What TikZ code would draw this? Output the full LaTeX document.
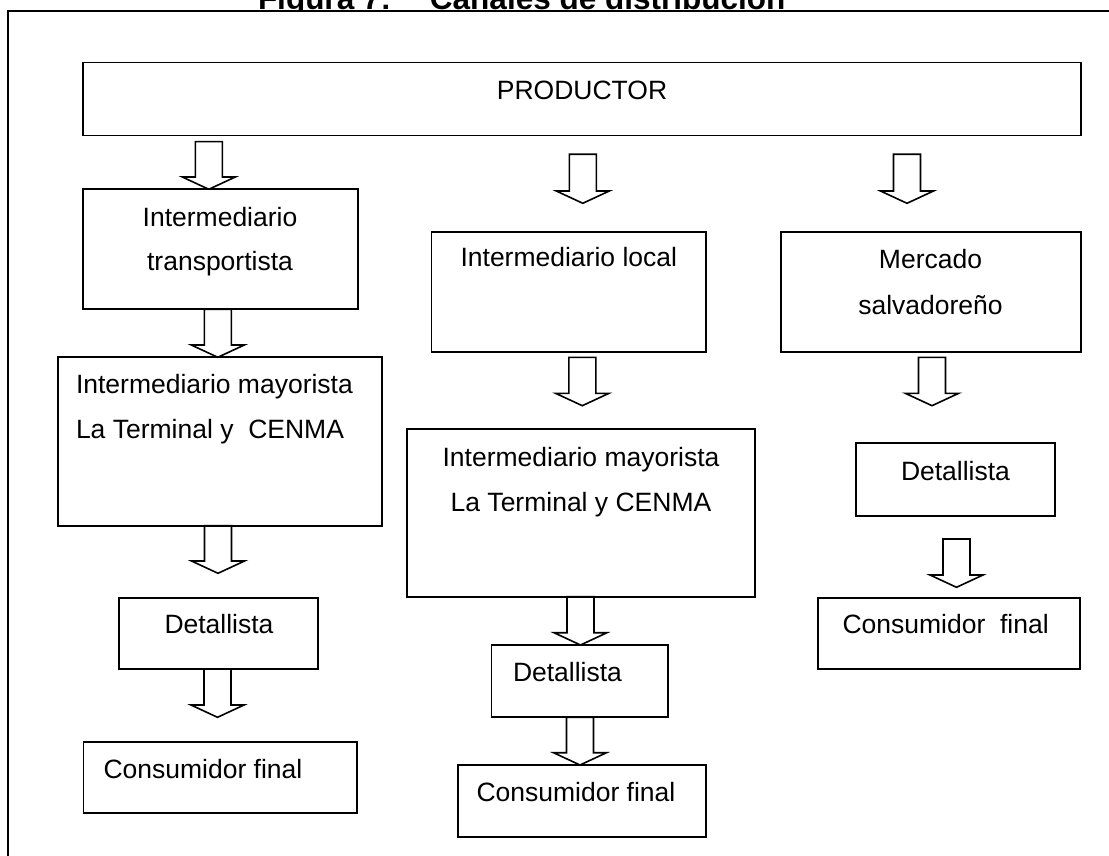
\documentclass[tikz,border=0pt]{standalone}
\usepackage{fontspec}
\setmainfont{Liberation Sans}
\usetikzlibrary{calc}
\tikzset{
  caja/.style={draw, line width=1.8pt, inner sep=0pt, outer sep=0pt},
  txt/.style={inner sep=0pt, outer sep=0pt, font=\fontsize{26.5pt}{45pt}\selectfont},
  titulo/.style={inner sep=0pt, outer sep=0pt, font=\bfseries\fontsize{31.5pt}{36pt}\selectfont},
  flechastyle/.style={draw, line width=1.6pt, line join=miter},
}
\newcommand\caja[5]{\node[caja, anchor=north west, minimum width={(#4-#2)*1pt}, minimum height={(#5-#3)*1pt}] (#1) at (#2,#3) {};}
% #1 source, #2 target, #3 x centre, #4 gap below source, #5 gap above target
\newcommand\flecha[5]{%
  \draw[flechastyle] let \p1=(#1.south), \p2=(#2.north) in
    ({#3pt-13.5pt},{\y1-#4pt}) -- ({#3pt-13.5pt},{\y2+#5pt+12.3pt}) --
    ({#3pt-26.5pt},{\y2+#5pt+12.3pt}) -- ({#3pt},{\y2+#5pt}) --
    ({#3pt+26.5pt},{\y2+#5pt+12.3pt}) -- ({#3pt+13.5pt},{\y2+#5pt+12.3pt}) --
    ({#3pt+13.5pt},{\y1-#4pt}) -- cycle;}
\begin{document}
\begin{tikzpicture}[x=1pt,y=-1pt]
\useasboundingbox (0,0) rectangle (1109,856);
\clip (0,0) rectangle (1109,856);
% title (partly hidden)
\node[titulo, anchor=base west] (title) at (258,9.5) {Figura 7:\hspace{39pt}Canales de distribución};
% frame
\draw[line width=1.8pt, fill=white] (8,10.7) rectangle (1200,900);
% boxes
\caja{prod}{83}{62.5}{1081}{135.5}
\caja{it}{83}{189.3}{358}{309.3}
\caja{ima}{58}{357.3}{382}{525.7}
\caja{lda}{119}{597.7}{318}{669}
\caja{lca}{83.5}{741.7}{357}{813}
\caja{ml}{431.5}{231.7}{706}{351.7}
\caja{imb}{406.6}{429.3}{755.3}{596.7}
\caja{ldb}{491.5}{645}{668}{717.3}
\caja{lcb}{457.6}{765}{705.8}{837.3}
\caja{ms}{780.7}{231.7}{1080.7}{351.7}
\caja{ldc}{855.7}{442.7}{1055}{515.7}
\caja{lcc}{818}{597.7}{1080}{669}
% texts
\node[txt, anchor=base] (tprod) at (582,100) {PRODUCTOR};
\node[txt, anchor=base] (tit1) at (220,226) {Intermediario};
\node[txt, anchor=base] (tit2) at (220,270) {transportista};
\node[txt, anchor=base west] (tima1) at (76,393) {Intermediario mayorista};
\node[txt, anchor=base west] (tima2) at (76,438) {La Terminal y\ \ CENMA};
\node[txt, anchor=base] (tlda) at (219,633) {Detallista};
\node[txt, anchor=base west] (tlca) at (103.5,778) {Consumidor final};
\node[txt, anchor=base] (tml) at (568.8,266.7) {Intermediario local};
\node[txt, anchor=base] (timb1) at (581,466) {Intermediario mayorista};
\node[txt, anchor=base] (timb2) at (581,511) {La Terminal y CENMA};
\node[txt, anchor=base west] (tldb) at (513,681) {Detallista};
\node[txt, anchor=base west] (tlcb) at (476.5,801) {Consumidor final};
\node[txt, anchor=base] (tms1) at (930.5,268) {Mercado};
\node[txt, anchor=base] (tms2) at (930.5,314) {salvadoreño};
\node[txt, anchor=base] (tldc) at (955.5,480) {Detallista};
\node[txt, anchor=base west] (tlcc) at (842.5,633) {Consumidor\ \ final};
% arrows
\flecha{prod}{it}{208.8}{6.2}{0}
\flecha{it}{ima}{217.8}{0}{0}
\flecha{ima}{lda}{218}{0}{24.4}
\flecha{lda}{lca}{217.5}{0}{24.4}
\flecha{prod}{ml}{582.8}{18.8}{28.4}
\flecha{ml}{imb}{582.3}{5.6}{23.6}
\flecha{imb}{ldb}{580.5}{0}{0}
\flecha{ldb}{lcb}{580}{0}{0}
\flecha{prod}{ms}{907}{18.8}{28.4}
\flecha{ms}{ldc}{932}{5.6}{37}
\flecha{ldc}{lcc}{956.5}{23.3}{10.4}
\end{tikzpicture}
\end{document}
